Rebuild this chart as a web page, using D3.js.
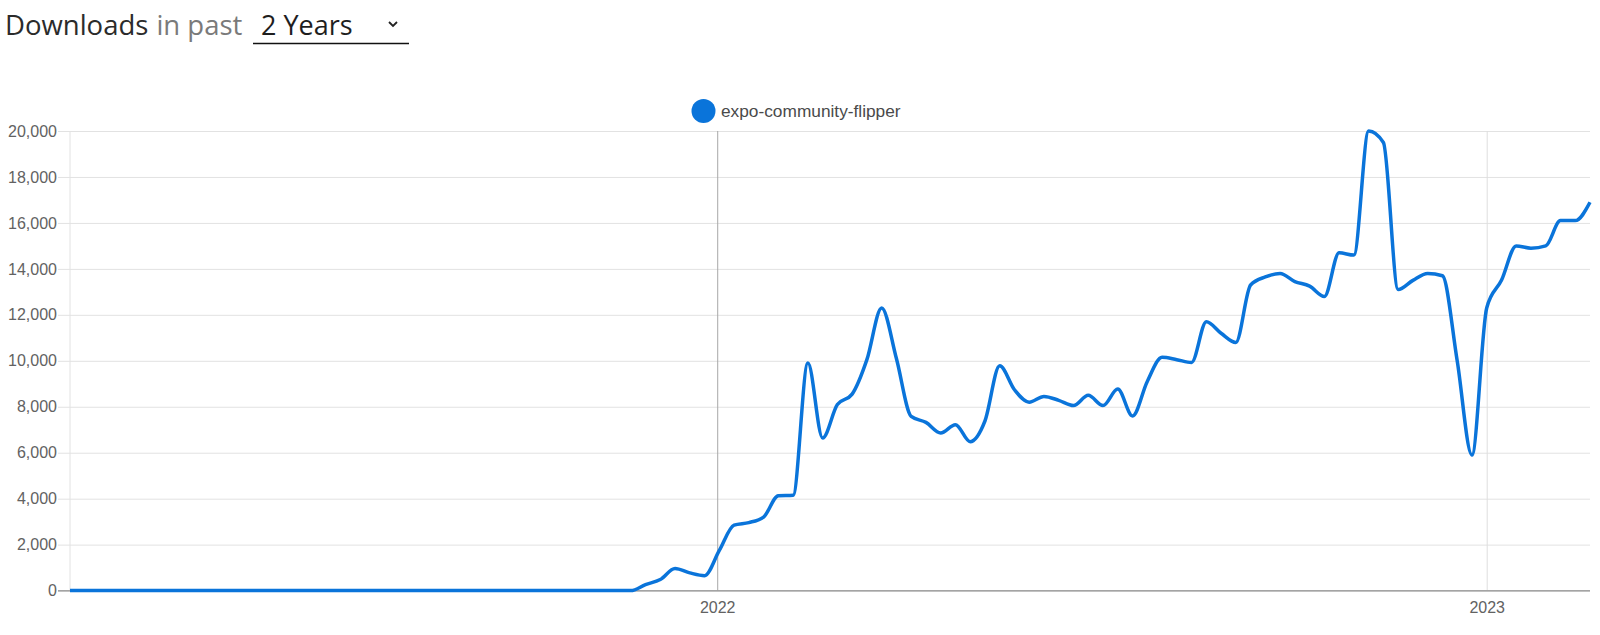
<!DOCTYPE html>
<html>
<head>
<meta charset="utf-8">
<script src="https://cdn.jsdelivr.net/npm/d3@7"></script>
<style>
  html, body { margin: 0; padding: 0; background: #fff; }
  svg { display: block; }
  .axis text { font-family: "Liberation Sans", Arial, sans-serif; font-size: 16px; fill: #626262; }
</style>
</head>
<body>
<svg id="chart" width="1600" height="635"></svg>
<script>
const packageName = 'expo-community-flipper';
const firstWeek = '2021-02-28';
const lastWeek = '2023-02-19';
const yearTicks = ['2022-01-01', '2023-01-01'];
const yTicks = [0, 2000, 4000, 6000, 8000, 10000, 12000, 14000, 16000, 18000, 20000];
// weekly downloads, one value per week from firstWeek
const downloads = [
  0, 0, 0, 0, 0, 0, 0, 0, 0, 0,
  0, 0, 0, 0, 0, 0, 0, 0, 0, 0,
  0, 0, 0, 0, 0, 0, 0, 0, 0, 0,
  0, 0, 0, 0, 0, 0, 0, 0, 0, 260,
  480, 960, 770, 650, 1750, 2850, 2960, 3200, 4130, 4150,
  9900, 6640, 8100, 8550, 10050, 12300, 10100, 7580, 7320, 6860,
  7220, 6480, 7380, 9780, 8740, 8200, 8450, 8280, 8050, 8500,
  8050, 8770, 7600, 9100, 10150, 10050, 9930, 11700, 11200, 10800,
  13300, 13650, 13800, 13450, 13250, 12800, 14700, 14600, 20000, 19500,
  13100, 13500, 13800, 13700, 10000, 5900, 12300, 13500, 15000, 14900,
  15000, 16100, 16100, 16900
];

const parse = d3.utcParse('%Y-%m-%d');
const start = parse(firstWeek);
const data = downloads.map((v, i) => ({ date: d3.utcWeek.offset(start, i), value: v }));

const margin = { top: 131, right: 10, bottom: 44.4, left: 70 };
const width = 1600;
const height = 635;
const lineColor = '#0a74da';

const svg = d3.select('#chart');

// header
const head = svg.append('text')
  .attr('x', 5)
  .attr('y', 35)
  .style('font-family', '"Open Sans", "Noto Sans", sans-serif')
  .style('font-size', '27.5px');
head.append('tspan').attr('fill', '#2b2b2b').text('Downloads');
head.append('tspan').attr('fill', '#7a7a7a').attr('dx', 8).text('in past');
svg.append('text')
  .attr('x', 261)
  .attr('y', 35)
  .attr('fill', '#1e1e1e')
  .style('font-family', '"Open Sans", "Noto Sans", sans-serif')
  .style('font-size', '27px')
  .text('2 Years');
svg.append('path')
  .attr('d', 'M389,22 l4,4 l4,-4')
  .attr('fill', 'none')
  .attr('stroke', '#222')
  .attr('stroke-width', 1.8);
svg.append('line')
  .attr('x1', 253).attr('x2', 409)
  .attr('y1', 43.5).attr('y2', 43.5)
  .attr('stroke', '#111')
  .attr('stroke-width', 1.5);

const x = d3.scaleUtc()
  .domain([parse(firstWeek), parse(lastWeek)])
  .range([margin.left, width - margin.right]);
const y = d3.scaleLinear()
  .domain([0, 20000])
  .range([height - margin.bottom, margin.top]);

// horizontal grid + y labels
const yAxis = svg.append('g')
  .attr('class', 'axis')
  .attr('transform', `translate(58,0)`)
  .call(d3.axisLeft(y)
    .tickValues(yTicks)
    .tickSize(-(width - margin.right - 58))
    .tickPadding(1)
    .tickFormat(d3.format(',')));
yAxis.select('.domain').remove();
yAxis.selectAll('.tick line')
  .attr('stroke', d => d === 0 ? '#9e9e9e' : '#e2e2e2');

// left edge
svg.append('line')
  .attr('x1', margin.left).attr('x2', margin.left)
  .attr('y1', margin.top).attr('y2', y(0))
  .attr('stroke', '#e2e2e2');

// year lines + labels
const xAxis = svg.append('g')
  .attr('class', 'axis')
  .attr('transform', `translate(0,${y(0)})`)
  .call(d3.axisBottom(x)
    .tickValues(yearTicks.map(parse))
    .tickSize(-(y(0) - margin.top))
    .tickPadding(11)
    .tickFormat(d3.utcFormat('%Y')));
xAxis.select('.domain').remove();
xAxis.selectAll('.tick line')
  .attr('stroke', (d, i) => i === 0 ? '#a8a8a8' : '#dedede');

// baseline on top of vertical lines
svg.append('line')
  .attr('x1', 58).attr('x2', width - margin.right)
  .attr('y1', y(0)).attr('y2', y(0))
  .attr('stroke', '#9e9e9e');

const line = d3.line()
  .x(d => x(d.date))
  .y(d => y(d.value))
  .curve(d3.curveMonotoneX);

svg.append('path')
  .datum(data)
  .attr('fill', 'none')
  .attr('stroke', lineColor)
  .attr('stroke-width', 3.5)
  .attr('stroke-linejoin', 'round')
  .attr('d', line);

// legend
svg.append('circle')
  .attr('cx', 703.5)
  .attr('cy', 111)
  .attr('r', 12)
  .attr('fill', lineColor);
svg.append('text')
  .attr('x', 721)
  .attr('y', 117)
  .attr('fill', '#4a4a4a')
  .style('font-family', '"Liberation Sans", Arial, sans-serif')
  .style('font-size', '17.3px')
  .text(packageName);
</script>
</body>
</html>
